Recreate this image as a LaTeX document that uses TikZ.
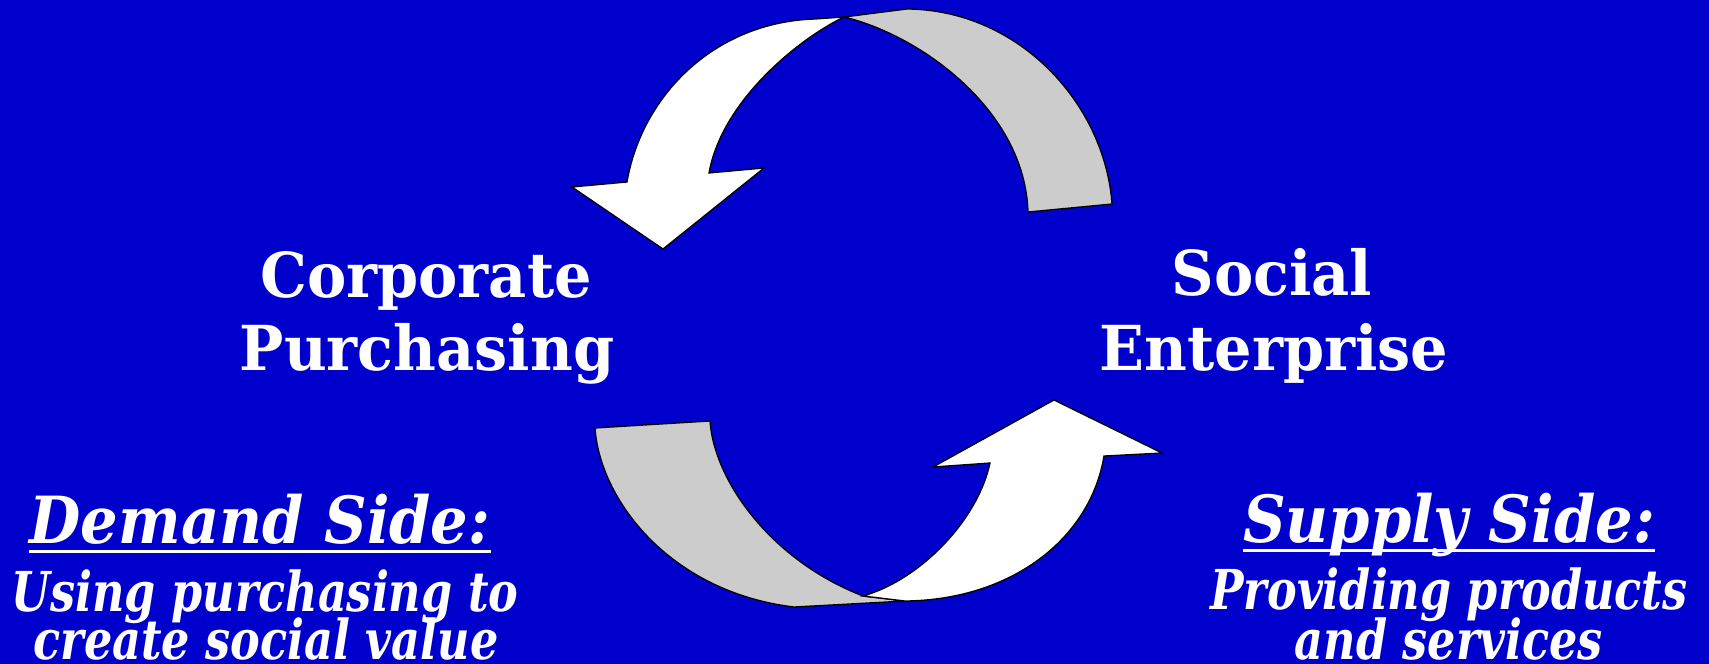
\documentclass[tikz,border=0pt]{standalone}
\usepackage{fontspec}
\setmainfont{DejaVu Serif}
\newfontfamily\titlefont{DejaVu Serif}[FakeStretch=0.95]
\newfontfamily\headfont{DejaVu Serif}[FakeStretch=0.91]
\newfontfamily\subfont{DejaVu Serif}[FakeStretch=0.81]
\definecolor{bgblue}{RGB}{0,0,204}
\definecolor{ribbongray}{RGB}{204,204,204}
\tikzset{
 title/.style={text=white, font=\titlefont\bfseries\fontsize{62}{70}\selectfont, anchor=base, inner sep=0pt},
 headtext/.style={text=white, font=\headfont\bfseries\itshape\fontsize{65}{70}\selectfont, anchor=base, inner sep=0pt},
 subtext/.style={text=white, font=\subfont\bfseries\itshape\fontsize{55}{60}\selectfont, anchor=base, inner sep=0pt},
 front/.style={fill=white, draw=black, line width=1.3pt, line join=miter},
 back/.style={fill=ribbongray, draw=black, line width=1.3pt, line join=miter},
 uline/.style={draw=white, line width=3pt},
}
\begin{document}
\begin{tikzpicture}[x=1pt,y=-1pt]
\fill[bgblue] (0,0) rectangle (1709,664);
\useasboundingbox (0,0) rectangle (1709,664);
% top ribbon arrow
\coordinate (tj) at (844,17);
\draw[back] (tj) .. controls (920,35) and (1025,110) .. (1028,212)
  -- (1112,204) .. controls (1105,105) and (1020,10) .. (907,9) -- cycle;
\draw[front] (572,187) -- (627,182) .. controls (642,95) and (715,22) .. (815,19)
  -- (tj) .. controls (800,38) and (722,100) .. (709,173)
  -- (764,168) -- (663,249) -- cycle;
% bottom ribbon arrow
\coordinate (bj) at (863,596);
\draw[back] (595,428) -- (710,421) .. controls (714,480) and (770,560) .. (bj)
  -- (905,601) -- (794,607) .. controls (670,592) and (600,500) .. (595,428) -- cycle;
\draw[front] (bj) .. controls (920,580) and (978,520) .. (990,463)
  -- (933,467) -- (1054,400) -- (1162,453) -- (1104,456)
  .. controls (1090,540) and (1010,600) .. (905,601) -- cycle;
% labels
\node[title] (cp1) at (426,297) {Corporate};
\node[title] (cp2) at (427,370) {Purchasing};
\node[title] (se1) at (1272,295) {Social};
\node[title] (se2) at (1274,370) {Enterprise};
\node[headtext] (dem) at (260,543) {Demand Side:};
\draw[uline] ([yshift=-8pt]dem.base west) -- ([yshift=-8pt]dem.base east);
\node[subtext] (dem1) at (265,611) {Using purchasing to};
\node[subtext] (dem2) at (266,659) {create social value};
\node[headtext] (sup) at (1449,542) {Supply Side:};
\draw[uline] ([yshift=-8pt]sup.base west) -- ([yshift=-8pt]sup.base east);
\node[subtext] (sup1) at (1449,609) {Providing products};
\node[subtext] (sup2) at (1449,659) {and services};
\end{tikzpicture}
\end{document}
